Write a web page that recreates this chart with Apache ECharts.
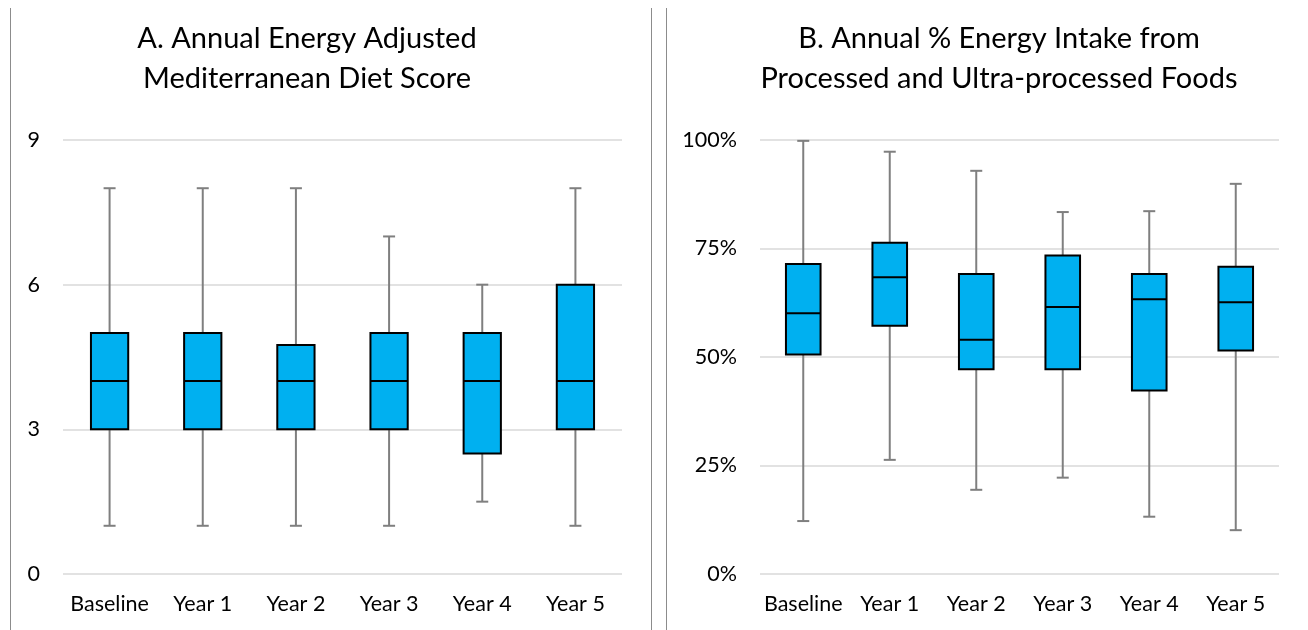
<!DOCTYPE html>
<html>
<head>
<meta charset="utf-8">
<script src="https://cdn.jsdelivr.net/npm/echarts@6/dist/echarts.min.js"></script>
<style>
  html, body { margin: 0; padding: 0; background: #fff; }
  #chart { width: 1308px; height: 630px; }
</style>
</head>
<body>
<div id="chart"></div>
<script>
// Time points on the x axis
const categories = ['Baseline', 'Year 1', 'Year 2', 'Year 3', 'Year 4', 'Year 5'];

// A. Energy-adjusted Mediterranean diet score (0-9)
const scoreMin = [1, 1, 1, 1, 1.5, 1];
const scoreQ1 = [3, 3, 3, 3, 2.5, 3];
const scoreMedian = [4, 4, 4, 4, 4, 4];
const scoreQ3 = [5, 5, 4.75, 5, 5, 6];
const scoreMax = [8, 8, 8, 7, 6, 8];
const scoreTicks = { min: 0, max: 9, interval: 3 };

// B. % energy from processed and ultra-processed foods
const upfMin = [12.2, 26.3, 19.4, 22.2, 13.2, 10.1];
const upfQ1 = [50.6, 57.2, 47.2, 47.2, 42.3, 51.5];
const upfMedian = [60.1, 68.4, 54.0, 61.5, 63.3, 62.6];
const upfQ3 = [71.4, 76.3, 69.1, 73.4, 69.1, 70.8];
const upfMax = [99.8, 97.3, 92.9, 83.4, 83.6, 89.9];
const upfTicks = { min: 0, max: 100, interval: 25 };

const FONT = 'Lato';
const BOX_FILL = '#00B0F0';
const WHISKER = '#7f7f7f';

function rows(mn, q1, md, q3, mx) {
  return categories.map((c, i) => [i, mn[i], q1[i], md[i], q3[i], mx[i]]);
}

// Box-and-whisker glyph: gray whiskers with caps, blue box, black median
function renderBox(params, api) {
  const i = api.value(0);
  const pMin = api.coord([i, api.value(1)]);
  const pQ1 = api.coord([i, api.value(2)]);
  const pMed = api.coord([i, api.value(3)]);
  const pQ3 = api.coord([i, api.value(4)]);
  const pMax = api.coord([i, api.value(5)]);
  const band = api.size([1, 0])[0];
  const w = band * 0.4;
  const cx = pMed[0];
  const cap = 6;
  const wStyle = { stroke: WHISKER, lineWidth: 2 };
  const bStyle = { stroke: '#000', lineWidth: 2 };
  return {
    type: 'group',
    children: [
      { type: 'line', shape: { x1: cx, y1: pMin[1], x2: cx, y2: pQ1[1] }, style: wStyle },
      { type: 'line', shape: { x1: cx, y1: pQ3[1], x2: cx, y2: pMax[1] }, style: wStyle },
      { type: 'line', shape: { x1: cx - cap, y1: pMin[1], x2: cx + cap, y2: pMin[1] }, style: wStyle },
      { type: 'line', shape: { x1: cx - cap, y1: pMax[1], x2: cx + cap, y2: pMax[1] }, style: wStyle },
      { type: 'rect', shape: { x: cx - w / 2, y: pQ3[1], width: w, height: pQ1[1] - pQ3[1] },
        style: { fill: BOX_FILL, stroke: '#000', lineWidth: 2 } },
      { type: 'line', shape: { x1: cx - w / 2, y1: pMed[1], x2: cx + w / 2, y2: pMed[1] }, style: bStyle }
    ]
  };
}

function xAxisFor(gridIndex) {
  return {
    type: 'category', gridIndex, data: categories,
    axisLine: { show: false }, axisTick: { show: false },
    axisLabel: { interval: 0, color: '#000', fontFamily: FONT, fontSize: 21.5, margin: 19 }
  };
}
function yAxisFor(gridIndex, ticks, fmt) {
  return {
    type: 'value', gridIndex, min: ticks.min, max: ticks.max, interval: ticks.interval,
    axisLine: { show: false }, axisTick: { show: false },
    axisLabel: { color: '#000', fontFamily: FONT, fontSize: 21.5, margin: 23, formatter: fmt },
    splitLine: { lineStyle: { color: '#d9d9d9', width: 1.5 } }
  };
}

const chart = echarts.init(document.getElementById('chart'), null, { renderer: 'canvas' });
const panelLine = { stroke: '#8c8c8c', lineWidth: 1 };
const titleStyle = { fontFamily: FONT, fontSize: 29, fontWeight: 'normal', color: '#000', lineHeight: 40 };
chart.setOption({
  animation: false,
  backgroundColor: '#fff',
  title: [
    { text: 'A. Annual Energy Adjusted\nMediterranean Diet Score', left: 302, top: 14, textAlign: 'center',
      textStyle: titleStyle },
    { text: 'B. Annual % Energy Intake from\nProcessed and Ultra-processed Foods', left: 994, top: 14, textAlign: 'center',
      textStyle: titleStyle }
  ],
  graphic: [
    { type: 'line', shape: { x1: 10.5, y1: 8, x2: 10.5, y2: 630 }, style: panelLine },
    { type: 'line', shape: { x1: 651.5, y1: 8, x2: 651.5, y2: 630 }, style: panelLine },
    { type: 'line', shape: { x1: 666.5, y1: 8, x2: 666.5, y2: 630 }, style: panelLine }
  ],
  grid: [
    { left: 63, top: 140, width: 559, height: 434 },
    { left: 760, top: 140, width: 519, height: 434 }
  ],
  xAxis: [xAxisFor(0), xAxisFor(1)],
  yAxis: [yAxisFor(0, scoreTicks), yAxisFor(1, upfTicks, '{value}%')],
  series: [
    { type: 'custom', xAxisIndex: 0, yAxisIndex: 0, renderItem: renderBox,
      encode: { x: 0, y: [1, 2, 3, 4, 5] },
      data: rows(scoreMin, scoreQ1, scoreMedian, scoreQ3, scoreMax) },
    { type: 'custom', xAxisIndex: 1, yAxisIndex: 1, renderItem: renderBox,
      encode: { x: 0, y: [1, 2, 3, 4, 5] },
      data: rows(upfMin, upfQ1, upfMedian, upfQ3, upfMax) }
  ]
});
</script>
</body>
</html>
